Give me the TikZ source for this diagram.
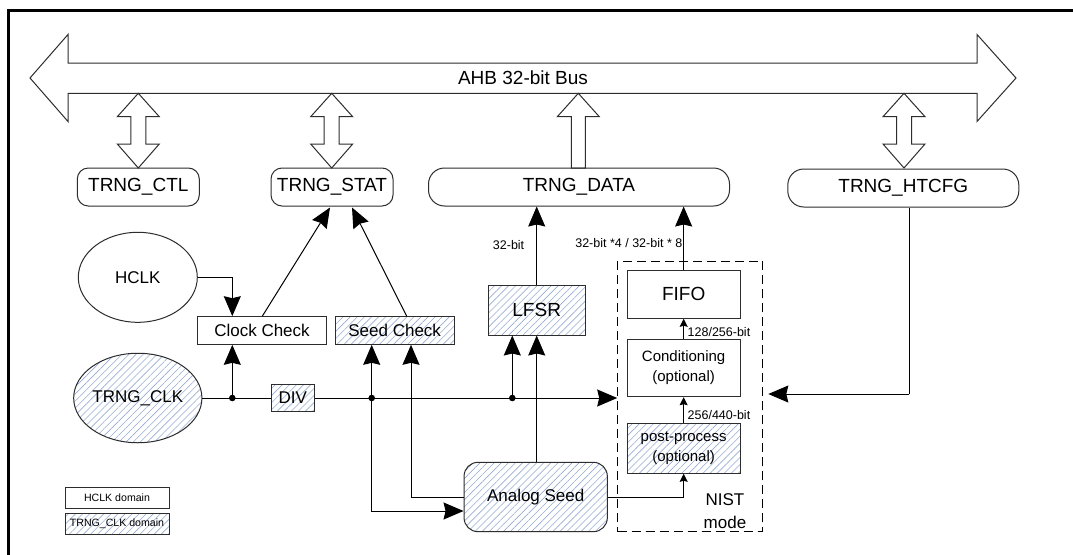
\documentclass[tikz,border=0pt]{standalone}
\usepackage{fontspec}
\setmainfont{Liberation Sans}
\usetikzlibrary{arrows.meta,patterns.meta,shapes.geometric,calc}
\definecolor{hatchc}{RGB}{150,172,212}
\definecolor{edgec}{RGB}{45,45,45}
\tikzset{
  hatch/.style={pattern={Lines[angle=45,distance=5pt,line width=0.6pt]},pattern color=hatchc},
  box/.style={rectangle,draw=edgec,line width=1pt,inner sep=0pt,align=center},
  reg/.style={box,rounded corners=11pt,minimum height=38pt,font=\fontsize{19}{22}\selectfont},
  regw/.style={box,rounded corners=16pt,minimum height=38pt,font=\fontsize{19}{22}\selectfont},
  mid/.style={font=\fontsize{17}{20}\selectfont},
  big/.style={font=\fontsize{19}{22}\selectfont},
  small/.style={font=\fontsize{15}{20}\selectfont},
  tiny/.style={font=\fontsize{12.5}{14}\selectfont,inner sep=0pt},
  legend/.style={box,font=\fontsize{10.6}{12}\selectfont,minimum width=104pt,minimum height=20.6pt},
  conn/.style={draw=black,line width=1pt,-{Stealth[length=20pt,width=17pt,inset=2pt]}},
  sconn/.style={draw=black,line width=1pt,-{Stealth[length=8pt,width=8pt,inset=1pt]}},
  plain/.style={draw=black,line width=1pt},
  busline/.style={draw=edgec,line width=1pt,fill=white},
  dot/.style={fill=black}
}
\begin{document}
\begin{tikzpicture}[x=1pt,y=-1pt]
\useasboundingbox (0,0) rectangle (1073,554);
\fill[white] (0,0) rectangle (1073,554);
% frame
\draw[line width=2.6pt] (8.3,560) -- (8.3,10.7) -- (1080,10.7);

% bus
\draw[busline] (30,78) -- (68,34.5) -- (68,63) -- (977,63) -- (977,34.5) -- (1016,78)
  -- (977,121.5) -- (977,93.3) -- (68,93.3) -- (68,121.5) -- cycle;
\node[big,inner sep=0pt] (bus) at (523,78) {AHB 32-bit Bus};

% double arrows
\foreach \c in {138.3,331.7,904}{
  \draw[busline] (\c,93.3) -- (\c+21,116.7) -- (\c+7.5,116.7) -- (\c+7.5,144) -- (\c+21,144)
    -- (\c,168) -- (\c-21,144) -- (\c-7.5,144) -- (\c-7.5,116.7) -- (\c-21,116.7) -- cycle;
}
% single up arrow to bus
\draw[busline] (578.3,93.3) -- (599.3,116.7) -- (585.3,116.7) -- (585.3,168) -- (571.3,168)
  -- (571.3,116.7) -- (557.3,116.7) -- cycle;

% registers
\node[reg,minimum width=122pt] (ctl) at (138.3,187) {TRNG\_CTL};
\node[reg,minimum width=122pt] (stat) at (332,187) {TRNG\_STAT};
\node[regw,minimum width=301pt] (data) at (579,187) {TRNG\_DATA};
\node[regw,minimum width=231pt] (ht) at (903.3,188) {TRNG\_HTCFG};

% clocks
\node[ellipse,draw=edgec,line width=1pt,minimum width=119pt,minimum height=90pt,inner sep=0pt,mid] (hclk) at (137.8,277.3) {HCLK};
\node[ellipse,draw=edgec,line width=1pt,hatch,minimum width=119pt,minimum height=89.5pt,inner sep=0pt,mid] (tclk) at (137.8,398) {TRNG\_CLK};

% checks
\node[box,mid,minimum width=129.4pt,minimum height=27.6pt] (cc) at (262,330.5) {Clock Check};
\node[box,mid,hatch,minimum width=119.3pt,minimum height=27.6pt] (sc) at (394.7,330.5) {Seed Check};
\node[box,mid,hatch,minimum width=43.3pt,minimum height=27.6pt] (div) at (292.7,398) {DIV};
\node[box,big,hatch,minimum width=96.7pt,minimum height=50pt] (lfsr) at (536.7,310) {LFSR};
\node[box,mid,hatch,rounded corners=14pt,minimum width=143.3pt,minimum height=69.4pt] (as) at (535.7,497) {Analog Seed};

% NIST box
\node[draw=black,line width=1pt,dash pattern=on 9pt off 5pt,rectangle,minimum width=144.6pt,minimum height=270.7pt,inner sep=0pt] (nist) at (690,396.35) {};
\node[box,big,minimum width=112.7pt,minimum height=48.3pt] (fifo) at (683.65,294.15) {FIFO};
\node[box,small,minimum width=112.7pt,minimum height=57.4pt] (cond) at (683.65,368) {Conditioning\\(optional)};
\node[box,small,hatch,minimum width=112.7pt,minimum height=50pt] (pp) at (683.65,448.3) {post-process\\(optional)};
\node[mid,align=center,inner sep=0pt,font=\fontsize{17}{23.5}\selectfont] (nm) at (725,511) {NIST\\mode};

% legend
\node[legend] (lg1) at (117,498) {HCLK domain};
\node[legend,hatch] (lg2) at (117,523.7) {TRNG\_CLK domain};

% coordinates
\coordinate (d1) at (232.3,398);
\coordinate (d2) at (371.7,398);
\coordinate (d3) at (512.3,398);
\coordinate (ht1) at (909.3,394);
\coordinate (ht2) at (768.3,394);

% connectors
\draw[conn] (hclk.east) -| (d1 |- cc.north);
\draw[plain] (tclk.east) -- (div.west);
\draw[conn] (d1) -- (d1 |- cc.south);
\draw[conn] (div.east) -- (div.east -| nist.west);
\draw[conn] (d2) -- (d2 |- sc.south);
\draw[conn] (d2) |- ([yshift=-14pt]as.west);
\draw[conn] (as.west) -| ([xshift=16.3pt]sc.south);
\draw[conn] (d3) -- (d3 |- lfsr.south);
\draw[conn] (lfsr.south |- as.north) -- (lfsr.south);
\draw[conn] (lfsr.north) -- (lfsr.north |- data.south) node[pos=0.5,tiny,anchor=east,xshift=-12pt] {32-bit};
\draw[conn] ([xshift=0.3pt]cc.north) -- ([xshift=-2pt,yshift=-1pt]stat.south);
\draw[conn] ([xshift=12pt]sc.north) -- ([xshift=20pt,yshift=-1pt]stat.south);
\draw[conn] (fifo.north) -- (fifo.north |- data.south);
\node[tiny,anchor=east] (lab1) at (682.5,243.3) {32-bit *4 / 32-bit * 8};
\draw[sconn] (cond.north) -- (fifo.south);
\node[tiny,anchor=west] (lab2) at (687.5,332.5) {128/256-bit};
\draw[sconn] (pp.north) -- (cond.south);
\node[tiny,anchor=west] (lab3) at (687.5,415) {256/440-bit};
\draw[sconn] (as.east) -| (pp.south);
\draw[plain] (ht.south -| ht1) -- (ht1);
\draw[conn] (ht1) -- (ht2);

\fill[dot] (d1) circle (3.3pt);
\fill[dot] (d2) circle (3.3pt);
\fill[dot] (d3) circle (3.3pt);
\end{tikzpicture}
\end{document}
